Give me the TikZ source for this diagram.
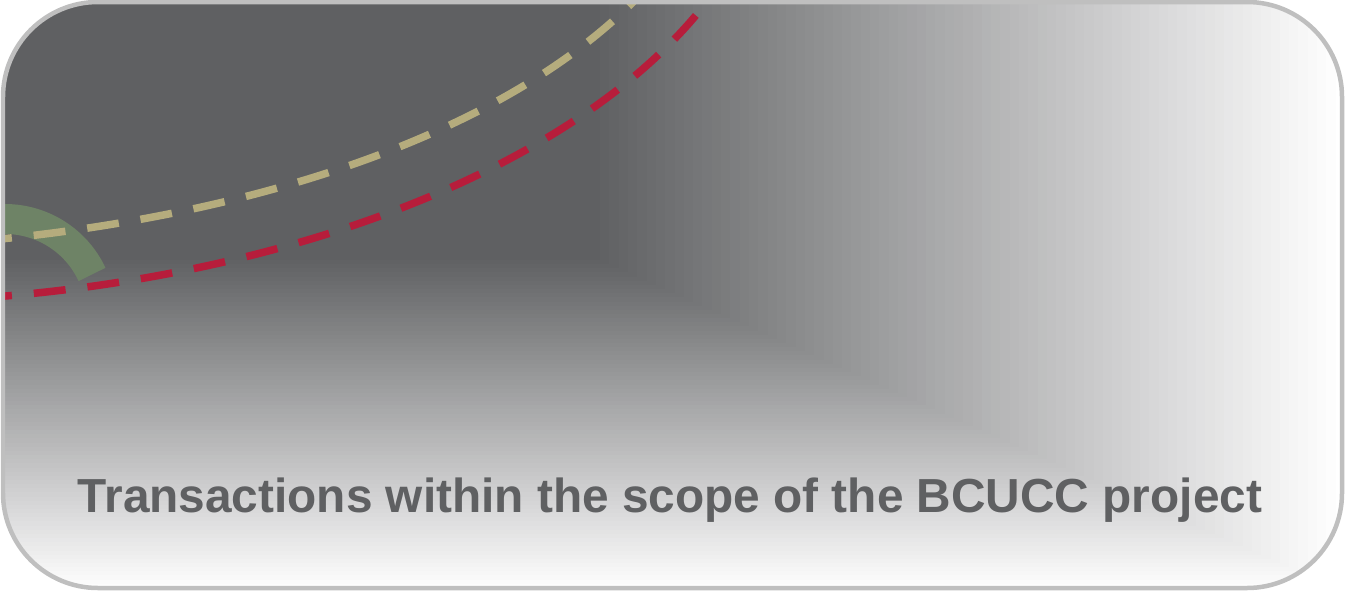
\documentclass[tikz,border=0pt]{standalone}
\usepackage{fontspec}
\setmainfont{Liberation Sans}
\definecolor{panelgray}{HTML}{5F6062}
\definecolor{panelrim}{HTML}{BFBFBF}
\definecolor{trackgreen}{HTML}{6E8366}
\definecolor{routetan}{HTML}{B5AC7D}
\definecolor{routered}{HTML}{B71D3B}

\begin{document}
\begin{tikzpicture}[x=0.02cm,y=-0.02cm,
        route/.style={line width=0.15cm,dash pattern=on 0.64cm off 0.44cm},
        caption/.style={font=\bfseries\fontsize{27.2}{32}\selectfont,
                        text=panelgray,anchor=base}]
  \useasboundingbox (0,0) rectangle (1345,592);
  \begin{scope}
    \clip[rounded corners=1.9cm] (3,2) rectangle (1342,588);
    % fading from the dark top left corner
    \foreach \i in {80,...,0}{
      \pgfmathsetmacro\dk{100-1.25*\i}
      \pgfmathsetmacro\rx{600+9.3125*\i}
      \pgfmathsetmacro\ry{260+4.15*\i}
      \fill[panelgray!\dk!white] (-10,-10) rectangle (\rx,\ry);
    }
    \draw[trackgreen,line width=0.6cm] (-27.8,224.8) arc[start angle=-110,end angle=-25,radius=96];
    \draw[route,routetan] (-20,241) .. controls (265,215) and (510,130) .. (640,-5);
    \draw[route,routered] (-20,298) .. controls (305,275) and (590,160) .. (712,-5);
  \end{scope}
  \draw[panelrim,line width=0.09cm,rounded corners=1.9cm] (3,2) rectangle (1342,588);
  \node[caption] (title) at (670,512) {Transactions within the scope of the BCUCC project};
\end{tikzpicture}
\end{document}
